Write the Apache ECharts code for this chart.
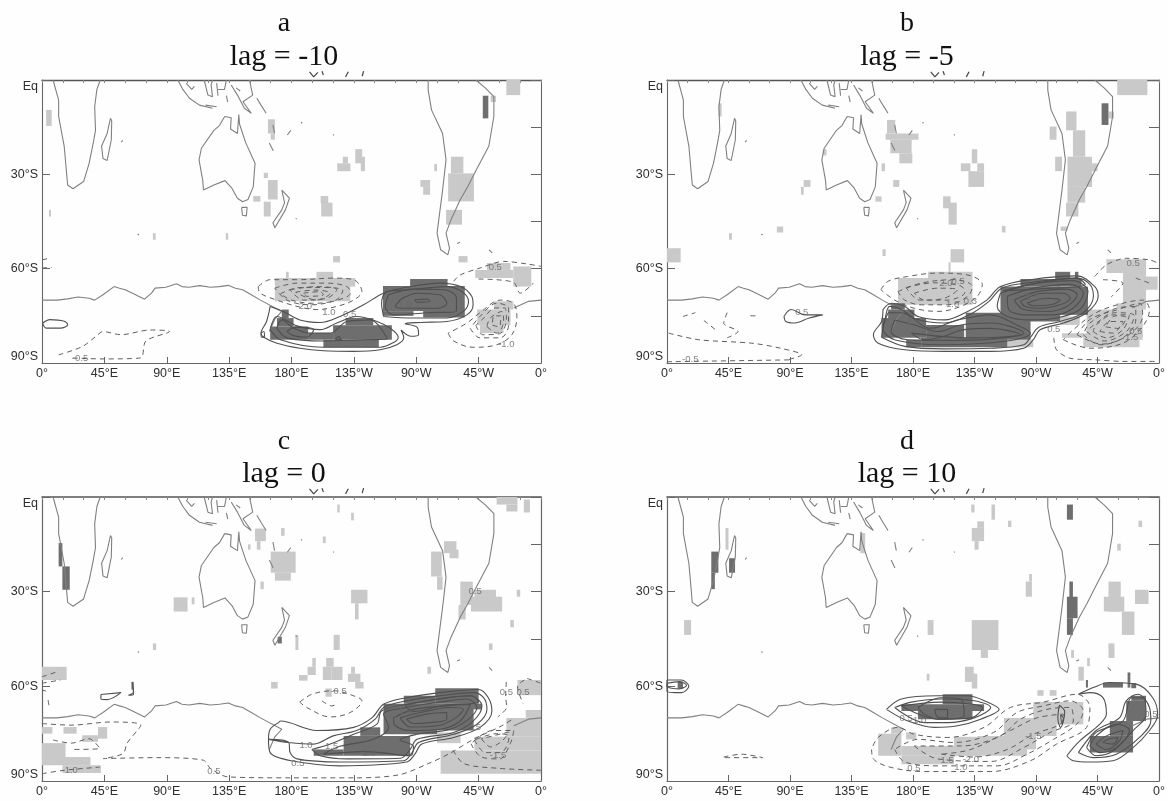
<!DOCTYPE html>
<html><head><meta charset="utf-8">
<script src="https://cdn.jsdelivr.net/npm/echarts@6/dist/echarts.min.js"></script>
<style>html,body{margin:0;background:#fff}#c{width:1168px;height:801px;filter:blur(0.45px)}</style>
</head><body><div id="c"></div><script>
const xTicks={0:'0°',45:'45°E',90:'90°E',135:'135°E',180:'180°E',225:'135°W',270:'90°W',315:'45°W',360:'0°'};
const yTicks={0:'Eq','-30':'30°S','-60':'60°S','-90':'90°S'};
const titleLetters=['a','b','c','d'];
const titleLags=['lag = -10','lag = -5','lag = 0','lag = 10'];

// Coastlines, [lon, lat]
const coastlines=[
[[8,0],[12,-6.4],[12,-11.6],[16,-21],[18.5,-33.4],[22.4,-34.6],[30,-32.3],[34,-26.5],[37,-20],[38.6,-16],[38,-8.5],[39.6,-3],[42,0]],
[[49.4,-12.2],[47,-17],[43,-21],[44,-25],[47,-25.6],[50,-19],[50.3,-13],[49.4,-12.2]],
[[131.8,-11.6],[128,-14.5],[124,-16],[115,-21.7],[113.3,-25.4],[116,-32],[116.5,-35],[124,-33.4],[132,-32],[137,-34.4],[141,-37.6],[144.7,-38.7],[148.6,-38],[152.4,-34],[153.7,-26.5],[147,-20],[142.5,-14],[142,-11],[141,-17],[136,-15.6],[136.5,-12],[131.8,-11.6]],
[[144,-40.5],[144.6,-43],[147.4,-43.2],[148,-40.5],[144,-40.5]],
[[173,-35],[178.5,-37.6],[175.6,-41.3],[168,-47],[166.6,-45.4],[173,-41.3],[175,-39],[173,-35]],
[[98,0],[101.6,-3],[106.4,-5.8],[113.6,-8],[123,-9]],
[[117,0],[119.7,-4.8],[123,-5.3],[122,-1.6],[123,0]],
[[127,-3],[131.7,-3],[133,0]],
[[136.5,-1.6],[141,-4.8],[146,-9],[151,-10.6],[145,-6.9],[152,-4.8],[149.7,0]],
[[155,-5.8],[158,-8],[161.7,-10.6]],
[[133,-5],[134,-7]],
[[104,-1],[108,-3],[110,-2]],
[[126,-1],[127,-5]],
[[118,-8],[126,-8.5]],
[[140,-2.5],[143,-3.5]],
[[166.6,-14.3],[167.8,-17]],
[[177,-17.5],[179.5,-16]],
[[187,-13.4],[187.6,-13.8]],
[[210,-17.3],[210.5,-17.6]],
[[164,-20],[166.8,-22.5]],
[[57.2,-19.8],[58.2,-19.2]],
[[69,-49],[70,-49.3]],
[[183,-44],[183.8,-44.2]],
[[299.5,-52],[301.5,-51.6]],
[[322.5,-54],[324.8,-55]],
[[278.6,0],[278.6,-3.2],[281,-9.5],[289,-17],[291.5,-25.4],[289,-35],[285,-48.7],[287.6,-54],[292.8,-55.6],[294,-53.5],[291.5,-48.7],[295,-44.5],[301.8,-38],[307,-34],[314.6,-27.5],[322.4,-21],[326,-11.6],[326,-5.3],[320,-2.6],[313,0]],
[[0,-70],[10.8,-70],[18.5,-69.6],[26,-69],[34,-69.4],[38,-70],[44,-68.3],[52,-65.7],[55.9,-66.2],[60,-66.7],[67.5,-68.3],[74,-69.7],[79,-67.8],[81.6,-66.2],[89.4,-65.9],[97,-64.8],[101,-65.7],[106,-65.9],[113.8,-65.4],[121.5,-65.9],[128,-65.7],[134.4,-65.3],[139.6,-66.2],[144.7,-66.7],[151,-68.3],[157.6,-70],[173,-73.6],[168,-76],[165,-79],[164,-80]],
[[360,-70],[351,-70.4],[340.4,-72.5]]
];
// Small pieces that stick out above the top axis
const overTop=[[[193,2.6],[196,1],[199,2.4]],[[202,2.8],[203,1.6]],[[219,1],[221,2.6]],[[231,1.2],[232,2.8]]];

// ---- Panel a ----
const aSolid=[
[[164.6,-72],[174,-73.6],[186,-76.3],[200.7,-77.1],[215,-75.2],[232,-71.5],[246.4,-67.8],[263,-65.9],[287,-64.6],[302,-65.7],[310,-68.8],[311,-71.5],[306.5,-74.7],[292,-76.8],[273,-77.1],[262,-77.5],[270.5,-78.6],[271.7,-81],[266,-81.5],[259,-79.5],[261,-82],[256,-84.2],[244,-85.8],[224.8,-86.3],[203,-86.1],[186,-85.3],[169.5,-83.7],[160,-81.8],[158,-80.5],[162,-76.8]],
[[246.4,-75.2],[268,-75.7],[292,-75.7],[304,-73.6],[307.7,-70.4],[303,-67.3],[292,-65.7],[265.6,-66.7],[248.8,-67.3],[245,-71]],
[[250,-68.3],[268,-66.5],[290,-66.7],[299,-69.4],[299,-73.6],[277.7,-74],[253.6,-74.7],[247.6,-72]],
[[258.4,-69.9],[270.5,-67.8],[287,-68.3],[292,-71],[285,-72.6],[263,-72.6],[255,-72]],
[[269,-69.9],[277.7,-69.7],[280,-70.4],[270.5,-70.7]],
[[164.6,-79.4],[172,-82.6],[203,-85],[244,-85],[253.6,-83.5],[257,-81.8],[251,-78.9],[241.6,-76.8],[227,-75.2],[212.7,-77.3],[200.7,-79.4],[184,-78.2],[169.5,-75.2]],
[[169.5,-78.9],[176.7,-82],[203,-83],[234.4,-82.6],[249,-82.4],[236.8,-76.3],[220,-76.8],[208,-80.5],[193.5,-80.5],[181.5,-78.9],[173,-76.3]],
[[176.7,-80],[182.7,-78.6],[196,-79.4],[191,-81.8],[181.5,-81.3]],
[[211.5,-82.4],[214,-81.6],[216,-82.6]],
[[158,-80.5],[160,-80],[160.5,-81.5],[158.5,-81.8]],
[[0.5,-77.3],[5.7,-76.2],[16,-76.7],[18.5,-77.8],[13.4,-78.9],[3,-78.9]]
];
const aDashed=[
[[156,-65.7],[164.6,-63.5],[186,-63.5],[210,-63],[224.8,-63.5],[230.8,-67.3],[224.8,-70],[212.7,-72],[198.3,-73],[184,-72],[169.5,-70],[157.4,-67.8]],
[[168,-66.2],[184,-64.6],[205.5,-64.6],[220,-65.7],[222.4,-67.8],[210,-70.4],[193.5,-71.5],[176.7,-70]],
[[172,-68],[186,-66],[205,-66],[217,-67],[212,-70],[195,-71],[180,-70]],
[[179,-66.7],[198,-65.7],[212.7,-66.7],[205.5,-69.4],[188.7,-70]],
[[183,-67.5],[197,-66.8],[208,-67.8],[198,-70]],
[[188.7,-67.8],[200.7,-67.3],[203,-68.3],[191,-68.8]],
[[293,-80.5],[297,-83],[311,-85],[328,-84.2],[339,-81],[342.6,-75.2],[340,-71],[330.6,-70],[316,-74],[306.5,-77.3]],
[[309,-79],[316,-82],[330.6,-82],[336.6,-77.9],[336.6,-72.6],[328,-71],[316,-75.2]],
[[313,-78],[318,-81],[330,-80.7],[335,-76],[334,-72.5],[327,-72.5],[318,-76]],
[[321,-78.4],[328,-80.5],[333,-76.8],[331.8,-73.6],[323.4,-75.7]],
[[325,-78],[330,-78.5],[331,-75],[326,-75]]
];
const aOpenDashed=[
[[297,-64],[301.7,-62],[316,-59.8],[333,-57.7],[350,-58.5],[360,-59.3]],
[[315,-63.3],[340,-64.3],[345,-67.8],[354.6,-64.6]],
[[12,-87.4],[29,-84.8],[39,-81.5],[44,-80],[57,-81],[78,-79.5],[92,-80],[75,-83],[71,-88.4],[44,-88.7],[21,-88.4]],
[[0,-57.2],[4,-56.8]],[[0,-59.8],[7,-59.6]]
];
const aLight=[[3,-9.5,7,-14.6],[5,-41.3,6.5,-43.4],[80,-48.7,82,-50.8],[132.6,-48.7,134.3,-50.8],[163,-12.5,168,-17],[165,-17,168,-19],[160,-29.5,163,-31.2],[163,-31.8,170,-38],[152.4,-36.9,157.6,-38.7],[160,-38.7,165,-43.4],[213,-26.5,222.5,-29],[217,-24.4,220.7,-26.5],[226,-22,231,-26.5],[230,-24.4,233,-29],[201,-36.9,206.5,-39.2],[201.4,-39,209.6,-43.4],[273,-31.8,280,-34],[275,-34,280,-36.5],[283,-26.7,285,-29],[295,-24.4,304,-29.7],[293,-29.7,311.6,-38.6],[291.5,-41.3,303,-46],[210,-56,215,-58],[300.5,-56,307,-58],[335,0,345,-4.8],[323.7,-5,327.5,-7],[168,-63,222.4,-70.4],[198,-61,210,-63],[176,-61,178,-63],[220,-63,226,-65.7],[312.6,-60.4,340,-63],[321,-58.2,338,-60.4],[340,-59.3,353,-65.7],[326,-70.4,340,-73],[314,-73,338,-78],[316,-78,333,-80.5]];
const aDark=[[318,-5,322,-12.2],[246,-65.5,305,-73.5],[246,-73.5,268,-75],[275,-73.5,305,-75.5],[265.6,-63.3,292.6,-65.5],[169.5,-75.7,181.5,-78.4],[173,-73,178,-75.7],[164.6,-78.4,192,-82.6],[192,-80.5,210,-82.6],[210,-78,252.4,-82.6],[219,-75.7,239,-78],[203,-82.6,243,-85]];
const aLabels=[[27.5,-88.5,'-0.5'],[190,-72,'2.0'],[207,-74,'1.0'],[222,-74.5,'0.5'],[262,-71.5,'1.0'],[335,-84,'-1.0'],[327,-59.5,'0.5']];

// ---- Panel b ----
const bSolid=[
[[158,-73],[164,-71],[174,-72],[183.6,-75.2],[203,-76.3],[220,-73.6],[234,-70],[244,-65.7],[266,-63.5],[300,-62.3],[313,-65.7],[315.5,-68.8],[307,-74],[290,-77.3],[273,-79.4],[268,-82.6],[261,-85.3],[237,-86.3],[203,-86.3],[174,-85.8],[154.5,-83.7],[151,-81],[157,-76.8]],
[[157,-81.8],[174,-84.7],[203,-85.5],[237,-85.3],[261,-84.2],[266,-81.8],[272,-78.6],[287.6,-76.8],[304.6,-74],[312,-68.8],[309.4,-65],[300,-63],[266,-64.4],[245,-66.2],[235.6,-70.4],[221,-74.7],[203,-77.3],[182,-76],[171.5,-73],[163,-72],[159.4,-76.3]],
[[244,-67.8],[266,-65],[297,-63.8],[308,-67.3],[302,-73],[285,-75.7],[266,-76.3],[249,-75.2],[241.6,-72]],
[[249,-68.8],[268,-66.2],[295,-65],[304.6,-67.8],[297,-72.6],[283,-74.7],[263.4,-74.7],[250,-73]],
[[246,-67],[268,-64.8],[300,-63],[306,-65],[270,-66.5]],
[[254,-70],[270.7,-67.3],[292.5,-66.5],[300,-68.3],[292.5,-72],[278,-73.6],[261,-73]],
[[258.6,-70.4],[275.5,-67.8],[290,-67.8],[295,-69.4],[287.6,-71.5],[273,-72.6],[262,-72]],
[[263.4,-71],[278,-69.4],[287.6,-70],[280.4,-71.5],[268,-71.8]],
[[161.8,-74],[158,-79],[166.6,-82.6],[200.5,-84.2],[249,-83],[266,-80.5],[256,-77.9],[237,-74.7],[212.6,-76.3],[193,-79],[171.5,-74]],
[[166.6,-76.3],[164,-80],[176,-82.6],[212.6,-82.8],[246.5,-82],[261,-80.5],[237,-77.3],[215,-77.9],[198,-80],[181,-77.9]],
[[178.7,-80.5],[188.4,-82.6],[200.5,-81.8],[217.4,-79.4],[236.8,-79],[258.6,-81],[241.6,-81.8],[220,-82]],
[[85.6,-75.2],[90.8,-73],[101,-74.7],[114,-74.7],[104,-75.7],[93.4,-77.3],[87,-76.8]]
];
const bDashed=[
[[156.5,-66.7],[161.8,-64],[176,-62.5],[198,-61.4],[220,-62],[230.7,-65],[227,-68.8],[215,-72],[198,-73.6],[181,-72.6],[166.6,-70]],
[[169,-67.3],[186,-64.6],[210,-63.5],[223.5,-65.7],[220,-68.8],[205.3,-71.5],[186,-71.5],[174,-70]],
[[175,-66],[195,-64.5],[215,-65.5],[218,-67.5],[205,-70],[185,-70]],
[[181,-67.8],[198,-66.2],[212.6,-66.7],[203,-69.4],[188.4,-70]],
[[290,-82.6],[309.4,-85.3],[333.6,-83.7],[348,-78.4],[353,-73],[348,-70],[333.6,-71],[314,-74],[297.3,-79.4]],
[[300,-81],[318,-84],[338,-81],[348,-75],[346,-71],[330,-73],[310,-76]],
[[304.6,-81],[316.7,-84.2],[333.6,-82],[343,-76.3],[343,-72],[328.8,-72.6],[309.4,-77.3]],
[[307,-80],[320,-83],[336,-80],[342,-75],[328,-74],[312,-78]],
[[311.8,-80],[321.5,-82],[333.6,-79.4],[338.4,-74.7],[326.3,-74.7],[314,-77.9]],
[[316.7,-80],[326.3,-80.5],[333.6,-76.8],[324,-76.8]],
[[321,-78.5],[330,-79],[336,-75.5],[328,-75]]
];
const bOpenDashed=[
[[283,-82],[285,-85.8],[295,-88.5],[314,-89],[333.6,-89.5],[358,-89.5]],
[[313,-62.5],[321.5,-58.8],[336,-56.7],[353,-57.2],[359,-58.2]],
[[319,-63.5],[333.6,-64.6],[325,-69]],[[343,-63],[353,-64.6]],
[[11.7,-75.2],[20.8,-74]],[[44,-74],[41.5,-77.3],[52,-80],[44,-82]],[[27,-76.5],[36,-79.6]],[[61,-75],[66,-75]],
[[1.3,-80.5],[23.3,-82.6],[62,-83.7],[83,-85.3],[98.6,-87.4],[88,-89]],
[[0,-89.6],[90.8,-89]]
];
const bLight=[[329.4,0,351.5,-4.8],[323,-10,327,-12.2],[161,-12.7,167,-17],[160,-17,184,-19],[163.4,-19,179,-23.3],[170,-23.3,179.5,-26.5],[157,-26.5,159.5,-29],[165.5,-31.8,170,-34],[100,-31.8,105,-34],[98,-34,100,-36.5],[152.5,-37,157,-38.7],[80.4,-46.6,85,-48.5],[45.4,-48.7,47.5,-50.8],[37.6,-7.4,40,-11.6],[114,-22,116.7,-24],[223,-22,227,-26.5],[215,-26.5,222,-29],[227,-26.5,232,-29],[220.5,-29,232,-34],[202,-37,207.5,-40.8],[206,-39,212,-46],[245,-46.4,247.7,-48.5],[157.7,-53.8,160,-56],[207.5,-53.8,217.4,-58],[206,-58,207.5,-61],[0,-53.5,10,-58],[280,-14.8,285,-19],[284,-24.4,289,-29],[292,-10,299.6,-16],[297,-16,306,-24.4],[293,-24.4,311,-34],[311,-26.5,315,-29],[293,-34,306,-39],[292,-39,301,-43.4],[288,-46.6,293,-48],[169,-63,223.5,-71.5],[191,-61,223.5,-63],[333.6,-61.4,350.5,-73],[321.5,-57,350.5,-61.4],[348,-62.5,359,-66.7],[307,-73,348,-82.6],[289,-80.5,348,-82],[304.6,-82,345.7,-85],[329,-71,348,-73],[287.6,-75.2,302,-77.9],[249,-82.6,268,-85]];
const bDark=[[318,-7.4,323,-14.3],[164,-71,174,-73],[161.8,-73,181,-75.7],[157,-75.7,189.6,-82],[189.6,-77.9,217.4,-83.7],[175,-82.6,186,-85],[186,-82,249,-85],[218.6,-74,266,-82.6],[244,-65.7,287.6,-76.8],[258.6,-63.3,303.3,-65.7],[284,-61,295,-63.3],[285,-65.7,308,-74.7],[298.5,-61,301,-63]];
const bLabels=[[17,-89,'-0.5'],[98.6,-74,'0.5'],[180,-76.8,'1.5'],[191.3,-79.8,'2.0'],[211,-79.4,'2.5'],[283,-79.4,'0.5'],[204,-64.6,'2.0'],[213,-64,'0.5'],[209,-71.5,'1.0'],[222,-70.4,'0.3'],[341,-58.2,'0.5'],[260,-69,'1.5'],[268,-69,'2.0'],[340,-82,'1.5'],[343,-80,'0.5']];

// ---- Panel c ----
const cSolid=[
[[170.7,-71.5],[164.6,-73.6],[163.4,-76.8],[164.6,-81],[180,-83.6],[215,-85.2],[263,-84],[269,-81.5],[274,-78.3],[297,-76.2],[316,-73],[324.6,-67.8],[322,-63.6],[315,-61],[287,-62],[263,-63.6],[246.4,-65.7],[238,-70],[224.8,-73],[198.3,-74],[172,-71]],
[[163.4,-76.8],[178,-77.8],[179,-81],[184,-83],[215,-84],[261,-83.6],[267,-81],[271.7,-77.8],[297,-75.2],[313.8,-72],[321,-67.3],[318.6,-63.6],[311,-62],[287,-63],[263,-64.6],[246.4,-66.7],[240.4,-70.4],[227,-74],[210,-75.7],[196,-78.3],[178,-77.8]],
[[194.7,-80],[200.7,-82],[220,-83],[258.4,-82.8],[265.6,-80],[270.5,-76.8],[297,-74.6],[311,-71],[317.4,-66.2],[309,-63],[287,-64],[263,-65.7],[245,-67.8],[241.6,-72],[224.8,-75.2],[208,-78.3]],
[[203,-81.5],[215,-79],[239,-76.8],[250,-73],[246.4,-68.8],[263,-66.7],[287,-65],[306.5,-64],[313.8,-66.7],[307.7,-70.4],[294.5,-73.6],[270.5,-75.2],[258.4,-77],[268,-79],[265.6,-82],[244,-81],[232,-80.7]],
[[262,-66],[285,-64],[310,-63],[315,-65],[290,-66],[268,-68]],
[[253.6,-70],[268,-67.3],[292,-66.2],[309,-65.7],[301.7,-71],[287.3,-73.6],[265.6,-74],[255,-72.5]],
[[258.4,-70],[273,-68.3],[294.5,-66.7],[304,-67.3],[297,-70.4],[285,-72.5],[265.6,-72.9]],
[[263,-70.4],[277.7,-68.8],[292,-68.3],[292,-70.4],[280,-71.5],[268,-71.8]],
[[42.5,-62.6],[57,-62],[47,-64.2],[42.5,-64]],
[[62.3,-62.8],[66,-61.7],[65.4,-58.6],[66,-62.5]]
];
const cDashed=[
[[186,-65],[194.7,-62.5],[210,-61.4],[224.8,-63],[230.8,-64.6],[222.4,-68.3],[208,-69.7],[191,-66.7]],
[[309.5,-78.2],[317,-82.4],[330,-83],[337.8,-78.2],[340.4,-74],[325,-74]],
[[312,-77],[320,-81],[331,-81],[337,-76],[328,-75]],
[[317,-76.6],[323.7,-79.2],[332.7,-77],[336.5,-74.5]]
];
const cOpenDashed=[
[[202,-64.6],[209,-66.2],[212.7,-65.7]],
[[0,-71.8],[21,-72.3],[49.4,-71.3],[71.3,-72.3],[61.4,-78],[58.5,-81.3],[44.3,-82.9],[83,-82.6],[116.4,-83.4],[121.5,-86],[134.4,-88.7],[179.5,-89],[227,-89],[258,-88],[278.6,-84.5],[294,-81.3],[312,-76.6],[330,-72.9],[340.4,-70.2]],
[[296.6,-80.3],[304.4,-84.5],[330,-86],[360,-86.6]],
[[335,-58.6],[334.5,-63.3],[335.3,-66.5],[328.8,-69.7]],
[[348,-58],[343,-60],[347,-65.4]],[[350,-57.5],[360,-59]],
[[0,-57],[10.8,-55.4]],[[0,-59],[13.4,-58]],[[4.4,-64.4],[5,-66]],[[0,-61.2],[3,-61.5]],
[[8,-77],[21,-78],[34,-76.6],[41.7,-79.7],[21,-80]],
[[0,-87.7],[16,-86.6],[41.7,-85.6]]
];
const cLight=[[287.6,-80.3,360,-87.7],[312,-76,360,-80.3],[335,-70,360,-76],[349,-67.5,360,-70],[0,-53.8,17.8,-58],[0,-72.9,7.5,-75],[15.5,-72.9,25,-75],[40.4,-72.9,47,-76.6],[29,-75.5,40.4,-77.6],[0,-78,17,-82.4],[0,-82.4,35,-85],[14.7,-85,42.5,-87.5],[95,-31.8,105,-36.3],[108,-31.8,110,-34],[80,-46.4,82.4,-48.5],[153.7,-10,161.5,-14],[155,-14,157.6,-16.7],[148.6,-15,150.4,-16.7],[172.5,-9.8,175,-12.3],[202.6,-12.5,204.7,-14.6],[165,-17.3,183,-24],[168,-24,179.5,-26.5],[157.6,-26.8,160,-29.2],[213,-2.4,214.8,-4.9],[223,-5,225,-7.4],[223,-29.4,234.8,-33.7],[225.8,-33.7,228.4,-38.8],[182.8,-43.7,185,-48.5],[210.4,-43.7,214.8,-48.5],[322.4,-46.4,325,-48.5],[337.8,-39,340.4,-41.3],[342.5,-29.4,345,-31.6],[312,-29.4,327.5,-33.7],[309.5,-31.6,332,-36.3],[301.8,-26.8,310.8,-34.2],[300.5,-34.2,305.7,-38.8],[280.7,-17.3,288.4,-25.2],[285,-25.2,289,-29.4],[290,-14,299,-17.8],[294,-16.7,300.5,-19.4],[328,0,343,-2.4],[335,-2.4,343,-4.6],[347.6,-0.8,352,-4.9],[278,-53.8,280.7,-56],[165.3,-58.6,170,-60.7],[185.4,-56.4,191.6,-58.2],[191.6,-53.8,197.5,-56.4],[195,-51,197.5,-53.8],[202.6,-53.8,209,-58],[205,-51,210.4,-53.8],[209,-53.8,216.8,-58],[220.7,-56,229.7,-58.6],[223,-53.8,225.8,-56],[226,-58.6,232,-60.7],[204.5,-60.7,209,-63.3],[343,-58,360,-62.8],[285,-74.6,302,-78]];
const cDark=[[12,-14.6,14.7,-22],[14.7,-22,20,-29.4],[170,-44.3,173,-46.4],[64.5,-58.6,66,-61],[196,-80,217.6,-82],[217.6,-75.7,265.6,-82],[229.6,-73,244,-75.7],[246.4,-65.5,285,-75.2],[261,-63,283.7,-65.5],[283.7,-60.6,315,-65.5],[283.7,-65.5,311.4,-74],[311,-65.5,317.4,-67.3]];
const cLabels=[[184.6,-84.5,'0.5'],[190.5,-78.7,'1.0'],[209,-79,'1.5'],[236,-81.3,'2.0'],[124,-87,'0.5'],[312,-72.9,'0.5'],[329,-81.9,'-1.5'],[312.5,-30,'0.5'],[214,-61.7,'-0.5'],[20,-86.6,'-1.0'],[335,-62,'0.5'],[347,-62,'0.5'],[262,-68,'1.5']];

// ---- Panel d ----
const dSolid=[
[[160.6,-67.3],[171.5,-64],[198,-63],[220,-63],[234.4,-65],[243,-67.3],[229.5,-70.4],[212.6,-72.5],[195.7,-73],[176.3,-71]],
[[166.6,-66.7],[178.7,-65],[200.5,-64],[222.3,-64.4],[236.8,-66.7],[224.7,-70],[205.3,-71.5],[188.4,-71.5]],
[[171.5,-66.2],[200.5,-65],[223.5,-65.7],[230.8,-66.7],[222.3,-70],[198,-70.4]],
[[183.6,-66.7],[200.5,-63.6],[215,-64],[217.4,-69.4],[198,-70.4],[188.4,-68.8]],
[[196,-67.3],[205.3,-67.3],[205.3,-70],[198,-69.7]],
[[292.5,-82],[297.3,-83.6],[309.4,-84],[326.3,-83.6],[341,-79.4],[353,-74],[359,-69],[355.4,-63.6],[343.3,-59.3],[324,-58.8],[311.8,-60.4],[301,-62.5],[309.4,-62],[319,-63.6],[321.5,-68.8],[316.7,-72],[302,-77.3]],
[[301,-81],[311.8,-82.6],[328.8,-81.5],[345.7,-76.2],[354,-71],[353,-66.7],[344.5,-62.5],[336,-64.6],[331,-70],[314,-74]],
[[307,-79.4],[314,-82],[326.3,-80.5],[341,-74],[350.5,-69],[348,-63.6],[339.7,-63.6],[333.6,-71],[314,-74.6]],
[[309.4,-78.9],[316.7,-81],[328.8,-79.4],[338.4,-74],[328.8,-72],[314,-75.7]],
[[314,-78.3],[321.5,-80],[331,-77.3],[333.6,-74],[321.5,-75.7]],
[[319,-77.8],[326.3,-78.3],[330,-76.2],[322.7,-76.8]],
[[287,-66],[291,-68],[290,-71],[288,-73],[286,-70]],
[[288,-69],[290,-70],[289,-72]],
[[0,-58],[10.4,-58],[16,-60],[10.4,-62],[0,-61.6]],
[[0,-59],[9,-58.5],[14.3,-59.7],[9,-60.8],[0,-60]]
];
const dDashed=[
[[149.7,-80],[151,-83],[164,-85.7],[188.4,-87],[237,-87],[265.8,-83.6],[285,-78.3],[307,-73],[309.4,-66.7],[300,-62.5],[275.5,-65],[251.3,-66.7],[232,-73],[205.3,-76.2],[181,-75.2],[169,-73],[154.5,-76.2]],
[[166.6,-80],[174,-84],[200.5,-85.2],[241.6,-85.2],[263.4,-81.5],[282.8,-76.8],[299.7,-72],[304.6,-67.8],[295,-64.6],[275.5,-66.2],[256,-68.3],[239,-74.6],[210,-77.8],[183.6,-76.8]],
[[181,-78.9],[198,-83],[237,-83.8],[261,-79.4],[280.4,-74.6],[297.3,-71],[295,-66.7],[278,-67.3],[258.6,-70.4],[244,-75.7],[215,-78.9]],
[[200.5,-81.5],[224.7,-82.4],[249,-80],[268,-75.2],[287.6,-72],[290,-68.8],[270.7,-70],[251.3,-74],[222.3,-80]]
];
const dOpenDashed=[[[41.5,-82.4],[54.5,-81.5],[70,-82.6],[41.5,-82.6]]];
const dLight=[[154.5,-75,171.5,-82],[164,-73,171.5,-75],[171.5,-78.9,263.4,-82],[171.5,-82,210,-84.7],[210,-76,230,-82],[227,-75.7,261,-79.4],[250,-72,270,-80],[246.5,-70,285,-75.7],[268,-65,304.6,-72],[285,-66,304,-72],[175,-74.6,182.4,-76.8],[12.5,-39,17.6,-43.7],[42.8,-9.8,45,-16.7],[141.4,-11.4,145,-17.8],[190.7,-39,195,-43.7],[222.6,-2.4,225,-4.9],[237.4,-2.4,240,-7.2],[249.5,-7.5,252,-9.5],[223,-9.8,232,-14],[227,-7.7,232,-9.8],[225,-14,228,-16.7],[223,-39,242.5,-48.5],[229.6,-48.5,234.8,-51],[218,-53.8,224.4,-58.6],[223,-56,227,-60.7],[190,-56,192,-58.2],[262.5,-26.8,267,-31.6],[265,-24.4,267,-26.8],[323,-26.8,332,-36.3],[319.6,-31.6,334.6,-36.3],[332.8,-36.3,342,-43.7],[342.4,-29.4,352.3,-33.9],[323,-46.4,327.4,-51],[345,-7.5,347.6,-9.5],[329.4,-14.8,332,-17],[295.7,-48.5,297.8,-51],[307.4,-51,309.4,-53.6],[301,-53.8,305,-58.2],[271,-61.2,275.5,-63],[280,-61.2,285,-63]];
const dDark=[[171.5,-65.7,232,-67.8],[183.6,-67.8,223.5,-70.4],[201.7,-62.5,223.5,-65.7],[309.4,-75.7,341,-81],[324,-71,341,-75.7],[336,-64.6,350.5,-71],[339.7,-63,350.5,-64.6],[319,-58.8,333.6,-60.4],[337,-55.6,339,-60.4],[339.7,-59,343.3,-60.6],[306.5,-58,308,-60.4],[32.4,-17.3,37.6,-24],[32.4,-24,35,-29.2],[45.4,-19.4,49.8,-24],[7.8,-58.6,11.7,-60.7],[294.4,-26.8,297,-32],[292.6,-31.6,300.4,-38.4],[292.6,-38.4,297,-43.7],[292.6,-2.4,297,-7.2]];
const dLabels=[[180.7,-86,'0.5'],[175,-70,'0.5'],[184.8,-70.7,'1.0'],[222.3,-83,'-2.0'],[205,-83.6,'1.5'],[215,-85.7,'1.0'],[268,-75.7,'-1.5'],[354,-69,'0.5']];

const grids=[{left:42,top:80,width:499,height:283},{left:667,top:80,width:496,height:283},{left:42,top:497,width:499,height:284},{left:667,top:497,width:496,height:284}];
const titleX=[279,902,279,902];
const titleY=[[5,37],[5,37],[423,454],[423,454]];
const panels=[
{s:aSolid,d:aDashed,o:aOpenDashed,l:aLight,k:aDark,t:aLabels},
{s:bSolid,d:bDashed,o:bOpenDashed,l:bLight,k:bDark,t:bLabels},
{s:cSolid,d:cDashed,o:cOpenDashed,l:cLight,k:cDark,t:cLabels},
{s:dSolid,d:dDashed,o:dOpenDashed,l:dLight,k:dDark,t:dLabels}];

const close=p=>p.concat([p[0]]);
const axisCol='#666';
const xAxis=[],yAxis=[],series=[],title=[];
const labelStyle={color:'#2e2e2e',fontSize:12.5,fontFamily:'Liberation Sans'};
panels.forEach((p,i)=>{
  const xb=xAxis.length,yb=yAxis.length;
  const line={show:true,onZero:false,lineStyle:{color:axisCol,width:i>1?1.2:1.1}};
  xAxis.push({gridIndex:i,type:'value',min:0,max:360,interval:45,position:'bottom',axisLine:line,axisTick:{inside:true,length:6,lineStyle:{color:axisCol}},splitLine:{show:false},axisLabel:Object.assign({margin:4,showMinLabel:true,showMaxLabel:true,formatter:v=>xTicks[v]},labelStyle)});
  xAxis.push({gridIndex:i,type:'value',min:0,max:360,interval:15,position:'top',axisLine:{show:true,onZero:false,lineStyle:{color:'#555',width:i>1?1.6:1.4}},axisTick:{inside:true,length:3,lineStyle:{color:'#888'}},splitLine:{show:false},axisLabel:{show:false}});
  yAxis.push({gridIndex:i,type:'value',min:-90,max:0,interval:30,position:'left',axisLine:line,axisTick:{inside:true,length:8,lineStyle:{color:axisCol}},splitLine:{show:false},axisLabel:Object.assign({margin:4,showMinLabel:true,showMaxLabel:true,verticalAlignMaxLabel:'top',verticalAlignMinLabel:'bottom',formatter:v=>yTicks[v]},labelStyle)});
  yAxis.push({gridIndex:i,type:'value',min:-90,max:0,interval:15,position:'right',axisLine:line,axisTick:{inside:true,length:10,lineStyle:{color:axisCol}},splitLine:{show:false},axisLabel:{show:false}});
  const common={xAxisIndex:xb,yAxisIndex:yb,silent:true,animation:false};
  const rects=(data,color,z)=>Object.assign({type:'custom',data,z,encode:{x:[0,2],y:[1,3]},clip:true,renderItem:(ctx,api)=>{
      const a=api.coord([api.value(0),api.value(1)]),b=api.coord([api.value(2),api.value(3)]);
      return {type:'rect',shape:{x:a[0],y:a[1],width:b[0]-a[0],height:b[1]-a[1]},style:{fill:color}};
  }},common);
  series.push(rects(p.l,'#c9c9c9',1));
  series.push(rects(p.k,'#6e6e6e',2));
  const ln=(data,color,width,type,smooth,z,clip)=>Object.assign({type:'line',data,showSymbol:false,symbol:'none',smooth,clip,z,lineStyle:{color,width,type}},common);
  coastlines.forEach(c=>series.push(ln(c,'#808080',1.1,'solid',false,3,true)));
  overTop.forEach(c=>series.push(ln(c,'#444',1.2,'solid',false,3,false)));
  p.s.forEach(c=>series.push(ln(close(c),'#505050',1.1,'solid',0.35,4,true)));
  p.d.forEach(c=>series.push(ln(close(c),'#5f5f5f',1,[5,4],0.35,4,true)));
  p.o.forEach(c=>series.push(ln(c,'#5f5f5f',1,[5,4],0.3,4,true)));
  series.push(Object.assign({type:'scatter',data:p.t,symbolSize:0,z:5,label:{show:true,position:'inside',formatter:q=>q.data[2],fontSize:9.5,color:'#666',fontFamily:'Liberation Sans'}},common));
  title.push({text:titleLetters[i],left:titleX[i],top:titleY[i][0],textAlign:'center',textStyle:{fontFamily:'Liberation Serif',fontSize:28,fontWeight:'normal',color:'#111'}});
  title.push({text:titleLags[i],left:titleX[i],top:titleY[i][1],textAlign:'center',textStyle:{fontFamily:'Liberation Serif',fontSize:30,fontWeight:'normal',color:'#111'}});
});
const chart=echarts.init(document.getElementById('c'),null,{renderer:'canvas'});
chart.setOption({animation:false,backgroundColor:'#fefefe',title,grid:grids,xAxis,yAxis,series});
</script></body></html>
